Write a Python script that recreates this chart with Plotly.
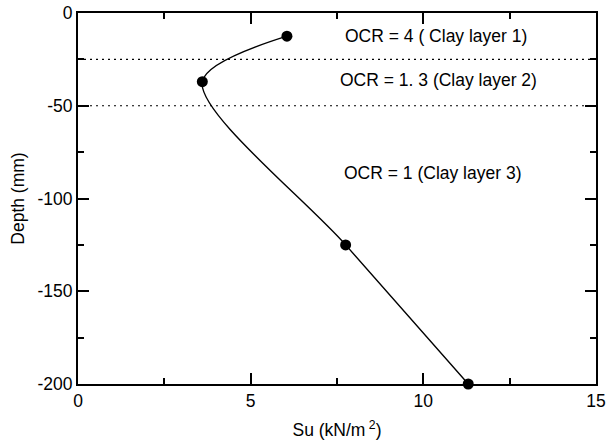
import plotly.graph_objects as go

# Data
su_values = [6.05, 3.6, 7.75, 11.3]          # Su (kN/m2)
depth_values = [-12.5, -37.0, -125.0, -200.0]  # Depth (mm)

layer_boundaries = [-25, -50]
layer_labels = ["OCR = 4 ( Clay layer 1)", "OCR = 1. 3 (Clay layer 2)", "OCR = 1 (Clay layer 3)"]
label_x = [10.38, 10.44, 10.27]
label_y = [-12.4, -36.2, -86.4]

x_ticks = [0, 5, 10, 15]
y_ticks = [0, -50, -100, -150, -200]

FONT = "Liberation Sans, Arial, sans-serif"
FS = 17.5

fig = go.Figure()

for yb in layer_boundaries:
    fig.add_trace(go.Scatter(
        x=[0, 15], y=[yb, yb], mode="lines",
        line=dict(color="black", width=1.2, dash="2px,4px"),
        showlegend=False, hoverinfo="skip"))

fig.add_trace(go.Scatter(
    x=su_values, y=depth_values, mode="lines+markers",
    line=dict(color="black", width=1.4, shape="spline", smoothing=0.85),
    marker=dict(color="black", size=11),
    showlegend=False, cliponaxis=False))

for t, xx, yy in zip(layer_labels, label_x, label_y):
    fig.add_annotation(x=xx, y=yy, text=t, showarrow=False,
                       xanchor="center", yanchor="middle",
                       font=dict(family=FONT, size=FS, color="black"))

axis_common = dict(
    showgrid=False, zeroline=False, showline=True, linecolor="black",
    linewidth=2, mirror="ticks", ticks="inside", ticklen=11, tickwidth=1.5,
    tickcolor="black", tickfont=dict(family=FONT, size=FS, color="black"),
    automargin=False,
)

fig.update_xaxes(
    range=[0, 15], tickvals=x_ticks, ticktext=[str(v) for v in x_ticks],
    minor=dict(ticks="inside", ticklen=6, tickwidth=1.5, tickcolor="black", dtick=2.5, tick0=0),
    title=dict(text="Su (kN/m<sup> 2</sup>)", font=dict(family=FONT, size=FS, color="black"), standoff=14),
    ticklabelstandoff=0,
    **axis_common)
fig.update_yaxes(
    range=[-200, 0], tickvals=y_ticks, ticktext=[str(v) for v in y_ticks],
    minor=dict(ticks="inside", ticklen=6, tickwidth=1.5, tickcolor="black", dtick=25, tick0=0),
    title=dict(text="Depth (mm)", font=dict(family=FONT, size=FS, color="black"), standoff=8),
    **axis_common)

fig.update_layout(
    width=608, height=445,
    margin=dict(l=78, r=12, t=13, b=61),
    paper_bgcolor="white", plot_bgcolor="white",
    font=dict(family=FONT, size=FS, color="black"),
)

fig.write_html("out.html")
